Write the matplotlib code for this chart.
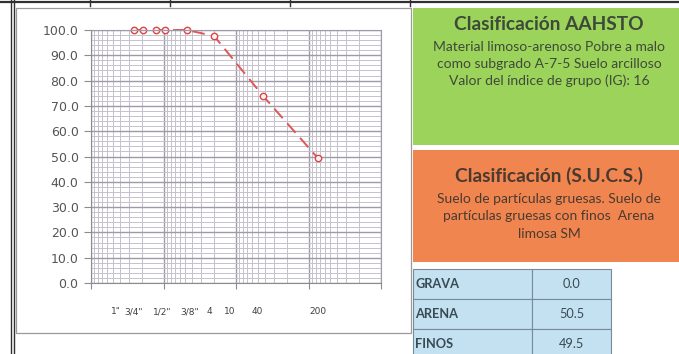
import numpy as np
import matplotlib.pyplot as plt
from matplotlib.patches import Rectangle
from matplotlib.lines import Line2D
from matplotlib.ticker import FormatStrFormatter, MultipleLocator, LogLocator

# sieve data
sieve_labels = ['1"', '3/4"', '1/2"', '3/8"', '4', '10', '40', '200']
sieve_mm = [25.4, 19.05, 12.7, 9.525, 4.75, 2.0, 0.425, 0.075]
pct_passing = [100.0, 100.0, 100.0, 100.0, 100.0, 97.6, 74.0, 49.5]

# granulometry summary
fractions = ['GRAVA', 'ARENA', 'FINOS']
fraction_pct = [0.0, 50.5, 49.5]

aashto_title = 'Clasificación AAHSTO'
aashto_lines = ['Material limoso-arenoso Pobre a malo',
                'como subgrado A-7-5 Suelo arcilloso',
                'Valor del índice de grupo (IG): 16']
sucs_title = 'Clasificación (S.U.C.S.)'
sucs_lines = ['Suelo de partículas gruesas. Suelo de',
              'partículas gruesas con finos  Arena',
              'limosa SM']

W, H = 679, 354
fig = plt.figure(figsize=(W / 100, H / 100), dpi=100)
fig.patch.set_facecolor('white')


def fx(px):
    return px / W


def fy(py):
    return 1 - py / H


def rect(x0, y0, x1, y1, **kw):
    fig.add_artist(Rectangle((fx(x0), fy(y1)), fx(x1 - x0), (y1 - y0) / H,
                             transform=fig.transFigure, **kw))


def hline(x0, x1, y, **kw):
    fig.add_artist(Line2D([fx(x0), fx(x1)], [fy(y), fy(y)], transform=fig.transFigure, **kw))


def vline(x, y0, y1, **kw):
    fig.add_artist(Line2D([fx(x), fx(x)], [fy(y0), fy(y1)], transform=fig.transFigure, **kw))


# sheet borders
hline(0, 679, 1.5, color='#303030', lw=1.6)
for xv in [90, 170, 290, 410]:
    vline(xv, 0, 6, color='#303030', lw=1.0)
vline(11, 0, 354, color='#303030', lw=1.0)
vline(13.5, 0, 354, color='#303030', lw=1.0)

# chart frame (behind the axes)
rect(16, 8, 411, 333, facecolor='white', edgecolor='#9a9a9a', lw=0.9, zorder=-5)

# grain size curve
ax = fig.add_axes([fx(91), 71 / H, fx(290), 253 / H])
ax.set_facecolor('none')
ax.set_xscale('log')
ax.set_xlim(100, 0.01)
ax.set_ylim(0, 100)
ax.yaxis.set_major_locator(MultipleLocator(10))
ax.yaxis.set_minor_locator(MultipleLocator(2))
ax.yaxis.set_major_formatter(FormatStrFormatter('%.1f'))
ax.xaxis.set_major_locator(LogLocator(base=10, numticks=10))
ax.xaxis.set_minor_locator(LogLocator(base=10, subs=np.arange(2, 10), numticks=20))
ax.set_xticklabels([])
ax.grid(which='major', color='#9e9aa8', lw=1.0)
ax.grid(which='minor', color='#c6c2cd', lw=0.7)
ax.set_axisbelow(True)
ax.tick_params(axis='y', which='major', length=5, color='#8c8c8c',
               labelsize=9, labelcolor='#555555', pad=4)
ax.tick_params(axis='x', which='major', length=4, color='#8c8c8c')
ax.tick_params(which='minor', length=0)
for side in ['left', 'bottom']:
    ax.spines[side].set_color('#8c8c8c')
for side in ['top', 'right']:
    ax.spines[side].set_color('#9e9aa8')

ax.plot(sieve_mm, pct_passing, color='#e05555', lw=1.4, ls=(0, (6.5, 3.5)),
        marker='o', markersize=4.6, mfc='#fdf0f0', mec='#d94848', mew=1.0,
        clip_on=False)

# sieve labels row under the chart
label_px = [116, 134, 162, 190, 209, 230, 257, 318]
for lab, xp in zip(sieve_labels, label_px):
    fig.text(fx(xp), fy(312), lab, ha='center', va='center',
             fontsize=6.5, color='#404040')

# AASHTO box
rect(413, 8, 679, 145, facecolor='#9cd35a', edgecolor='none')
fig.text(fx(549), fy(25), aashto_title, ha='center', va='center',
         fontsize=13.8, fontweight='bold', color='#3d4a3a', family='Lato')
for i, line in enumerate(aashto_lines):
    fig.text(fx(549), fy(47 + 17 * i), line, ha='center', va='center',
             fontsize=10, color='#3e4a3a', family='Lato')

# SUCS box
rect(413, 150, 679, 262, facecolor='#f1854f', edgecolor='none')
fig.text(fx(549), fy(176), sucs_title, ha='center', va='center',
         fontsize=13.8, fontweight='bold', color='#4a3a30', family='Lato')
for i, line in enumerate(sucs_lines):
    fig.text(fx(549), fy(199 + 17.5 * i), line, ha='center', va='center',
             fontsize=10, color='#4a3a30', family='Lato')

# granulometry table
tab_ax = fig.add_axes([fx(413), fy(359), fx(198), 90 / H])
tab_ax.axis('off')
cells = [[name, f'{val:.1f}'] for name, val in zip(fractions, fraction_pct)]
table = tab_ax.table(cellText=cells, cellColours=[['#c3e1f1'] * 2] * 3,
                     colWidths=[0.6, 0.4], bbox=[0, 0, 1, 1])
table.auto_set_font_size(False)
for (r, c), cell in table.get_celld().items():
    cell.set_edgecolor('#7a8a96')
    cell.set_linewidth(0.8)
    txt = cell.get_text()
    txt.set_fontsize(9.2)
    txt.set_color('#3a4a55')
    txt.set_family('Lato')
    if c == 0:
        txt.set_fontweight('bold')
        txt.set_ha('left')
        cell.PAD = 0.02
    else:
        txt.set_ha('center')

fig.savefig('out.png', dpi=100)
